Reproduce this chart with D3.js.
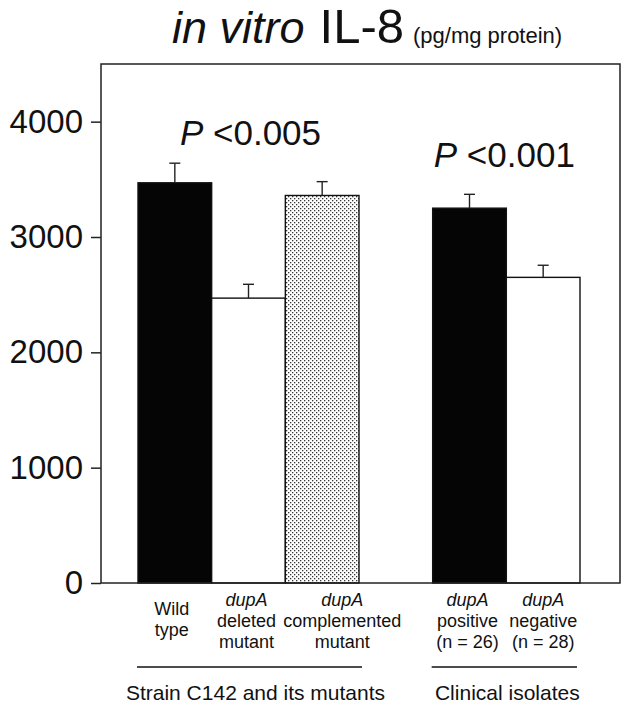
<!DOCTYPE html>
<html>
<head>
<meta charset="utf-8">
<script src="https://cdn.jsdelivr.net/npm/d3@7"></script>
<style>
  html, body { margin: 0; padding: 0; background: #fff; }
  svg { display: block; font-family: "Liberation Sans", Arial, Helvetica, sans-serif; }
</style>
</head>
<body>
<svg id="chart" width="633" height="712"></svg>
<script>
// ---------------- data ----------------
const categories = ["Wild type", "dupA deleted mutant", "dupA complemented mutant", "dupA positive (n = 26)", "dupA negative (n = 28)"];
const categoryLines = [
  ["Wild", "type"],
  ["dupA", "deleted", "mutant"],
  ["dupA", "complemented", "mutant"],
  ["dupA", "positive", "(n = 26)"],
  ["dupA", "negative", "(n = 28)"]
];
const values = [3470, 2470, 3360, 3250, 2650];
const errors = [170, 120, 120, 120, 105];
const fills = ["black", "white", "dots", "black", "white"];
const groups = ["Strain C142 and its mutants", "Clinical isolates"];
const groupMembers = [[0, 1, 2], [3, 4]];
const pLabels = ["<0.005", "<0.001"];
const pLabelValues = [3800, 3610];
const yTicks = [0, 1000, 2000, 3000, 4000];
const yMax = 4500;

// ---------------- layout ----------------
const svg = d3.select("#chart");
const frame = { left: 101, right: 620, top: 64, bottom: 583 };
const font = '"Liberation Sans", Arial, Helvetica, sans-serif';

// slots: 3 bars, gap, 2 bars
const slots = ["c0", "c1", "c2", "gap", "c3", "c4"];
const slotOf = i => "c" + i;
const x = d3.scaleBand().domain(slots).range([138, 580]).padding(0);
const y = d3.scaleLinear().domain([0, yMax]).range([frame.bottom, frame.top]);

// dot pattern
const defs = svg.append("defs");
const pat = defs.append("pattern")
  .attr("id", "dots").attr("patternUnits", "userSpaceOnUse")
  .attr("width", 4).attr("height", 4);
pat.append("rect").attr("width", 4).attr("height", 4).attr("fill", "#fff");
pat.append("rect").attr("x", 0).attr("y", 0).attr("width", 1.3).attr("height", 1.3).attr("fill", "#333");
pat.append("rect").attr("x", 2).attr("y", 2).attr("width", 1.3).attr("height", 1.3).attr("fill", "#333");

// title
const title = svg.append("text")
  .attr("x", 172).attr("y", 43)
  .attr("fill", "#111");
title.append("tspan").attr("font-size", 45).attr("font-style", "italic").text("in vitro");
title.append("tspan").attr("font-size", 49).attr("dx", 15).text("IL-8");
title.append("tspan").attr("font-size", 22).attr("dx", 9).text("(pg/mg protein)");

// y axis
const yAxis = d3.axisLeft(y).tickValues(yTicks).tickSize(10).tickPadding(8).tickFormat(d3.format("d"));
const gy = svg.append("g").attr("transform", `translate(${frame.left},0)`).call(yAxis);
gy.select(".domain").remove();
gy.selectAll(".tick line").attr("stroke", "#222").attr("stroke-width", 1.5);
gy.selectAll(".tick text").attr("font-size", 33).attr("font-family", font).attr("fill", "#111");

// bars
const barG = svg.append("g");
values.forEach((v, i) => {
  const s = slotOf(i);
  const fill = fills[i] === "dots" ? "url(#dots)" : (fills[i] === "black" ? "#050505" : "#fff");
  barG.append("rect")
    .attr("x", x(s)).attr("y", y(v))
    .attr("width", x.bandwidth()).attr("height", y(0) - y(v))
    .attr("fill", fill).attr("stroke", "#111").attr("stroke-width", 1.4);
  // error bar (upper only)
  const cx = x(s) + x.bandwidth() / 2;
  barG.append("line")
    .attr("x1", cx).attr("x2", cx).attr("y1", y(v)).attr("y2", y(v + errors[i]))
    .attr("stroke", "#222").attr("stroke-width", 1.4);
  barG.append("line")
    .attr("x1", cx - 5.5).attr("x2", cx + 5.5).attr("y1", y(v + errors[i])).attr("y2", y(v + errors[i]))
    .attr("stroke", "#222").attr("stroke-width", 1.4);
});

// frame
svg.append("rect")
  .attr("x", frame.left).attr("y", frame.top)
  .attr("width", frame.right - frame.left).attr("height", frame.bottom - frame.top)
  .attr("fill", "none").attr("stroke", "#222").attr("stroke-width", 1.5);

// P labels
const pShift = [2, -2];
groupMembers.forEach((m, gi) => {
  const x0 = x(slotOf(m[0]));
  const x1 = x(slotOf(m[m.length - 1])) + x.bandwidth();
  const t = svg.append("text")
    .attr("x", (x0 + x1) / 2 + pShift[gi]).attr("y", y(pLabelValues[gi]))
    .attr("text-anchor", "middle").attr("font-size", 35).attr("fill", "#111");
  t.append("tspan").attr("font-style", "italic").text("P");
  t.append("tspan").text(" " + pLabels[gi]);
});

// category labels
const labelShift = [-3, -2, 20, -2, 0];
categoryLines.forEach((lines, i) => {
  const cx = x(slotOf(i)) + x.bandwidth() / 2 + labelShift[i];
  const startY = lines.length === 2 ? 615 : 606;
  const t = svg.append("text").attr("text-anchor", "middle").attr("font-size", 18).attr("fill", "#111");
  lines.forEach((ln, k) => {
    t.append("tspan")
      .attr("x", cx).attr("y", startY + k * 21)
      .attr("font-style", ln === "dupA" ? "italic" : "normal")
      .text(ln);
  });
});

// group underlines and labels
groupMembers.forEach((m, gi) => {
  const x0 = x(slotOf(m[0])) - 1;
  const x1 = x(slotOf(m[m.length - 1])) + x.bandwidth() + (gi === 0 ? 3 : -3);
  svg.append("line")
    .attr("x1", x0).attr("x2", x1).attr("y1", 667).attr("y2", 667)
    .attr("stroke", "#111").attr("stroke-width", 1.5);
  svg.append("text")
    .attr("x", (x0 + x1) / 2 + (gi === 0 ? 6 : 3)).attr("y", 700)
    .attr("text-anchor", "middle").attr("font-size", 21).attr("fill", "#111")
    .text(groups[gi]);
});
</script>
</body>
</html>
